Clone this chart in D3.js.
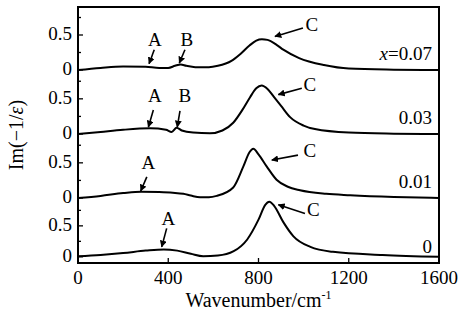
<!DOCTYPE html>
<html>
<head>
<meta charset="utf-8">
<script src="https://cdn.jsdelivr.net/npm/d3@7"></script>
<style>
  body { margin: 0; background: #fff; }
</style>
</head>
<body>
<svg id="chart" width="461" height="322" font-family="'Liberation Serif', 'DejaVu Serif', 'Times New Roman', serif"></svg>
<script>
// wavenumber (cm-1) and Im(-1/eps)
var wn007 = [0, 100, 200, 300, 360, 400, 430, 455, 480, 520, 580, 620, 680, 720, 760, 790, 815, 840, 880, 910, 980, 1090, 1200, 1400, 1600];
var im007 = [0, 0.03, 0.05, 0.045, 0.03, 0.03, 0.06, 0.08, 0.06, 0.04, 0.04, 0.06, 0.13, 0.23, 0.35, 0.42, 0.44, 0.43, 0.36, 0.29, 0.17, 0.07, 0.02, 0.005, 0];

var wn003 = [0, 100, 200, 320, 390, 415, 437, 460, 510, 585, 640, 688, 730, 762, 790, 814, 840, 870, 900, 940, 1000, 1050, 1200, 1400, 1600];
var im003 = [0, 0.03, 0.06, 0.08, 0.06, 0.03, 0.09, 0.05, 0.02, 0.01, 0.05, 0.16, 0.35, 0.52, 0.65, 0.69, 0.64, 0.52, 0.40, 0.24, 0.12, 0.07, 0.02, 0.005, 0];

var wn001 = [0, 100, 200, 280, 360, 420, 467, 500, 541, 580, 615, 688, 733, 760, 777, 800, 836, 880, 930, 984, 1100, 1206, 1400, 1600];
var im001 = [0, 0.03, 0.07, 0.09, 0.085, 0.075, 0.06, 0.035, 0.01, 0.01, 0.03, 0.15, 0.45, 0.65, 0.70, 0.62, 0.45, 0.26, 0.16, 0.11, 0.06, 0.04, 0.015, 0];

var wn000 = [0, 100, 200, 300, 380, 440, 500, 555, 620, 690, 750, 800, 830, 848, 870, 910, 955, 1030, 1130, 1350, 1600];
var im000 = [0.01, 0.03, 0.06, 0.10, 0.12, 0.10, 0.05, 0.01, 0.02, 0.09, 0.28, 0.60, 0.84, 0.89, 0.82, 0.56, 0.33, 0.16, 0.08, 0.03, 0];

var xTicks = [0, 400, 800, 1200, 1600];
var yTicks = [0, 0.5];
var yMinor = [0.25, 0.75];

// annotations: label at (x, y), arrow from (x1, y1) to (x2, y2), in data units of the panel
var panels = [
  { name: "0.07", wn: wn007, im: im007, domain: [0, 0.9],
    notes: [
      { t: "A", x: 341, y: 0.40, x1: 338, y1: 0.29, x2: 315, y2: 0.09 },
      { t: "B", x: 482, y: 0.40, x1: 474, y1: 0.29, x2: 449, y2: 0.10 },
      { t: "C", x: 1036, y: 0.62, x1: 997, y1: 0.60, x2: 873, y2: 0.48 }
    ] },
  { name: "0.03", wn: wn003, im: im003, domain: [0, 0.91],
    notes: [
      { t: "A", x: 341, y: 0.51, x1: 334, y1: 0.34, x2: 312, y2: 0.10 },
      { t: "B", x: 474, y: 0.51, x1: 452, y1: 0.33, x2: 440, y2: 0.10 },
      { t: "C", x: 1028, y: 0.68, x1: 992, y1: 0.65, x2: 888, y2: 0.56 }
    ] },
  { name: "0.01", wn: wn001, im: im001, domain: [0, 0.91],
    notes: [
      { t: "A", x: 312, y: 0.47, x1: 305, y1: 0.30, x2: 278, y2: 0.10 },
      { t: "C", x: 1028, y: 0.64, x1: 975, y1: 0.61, x2: 859, y2: 0.54 }
    ] },
  { name: "0", wn: wn000, im: im000, domain: [-0.1, 0.95],
    notes: [
      { t: "A", x: 400, y: 0.59, x1: 393, y1: 0.46, x2: 371, y2: 0.16 },
      { t: "C", x: 1043, y: 0.73, x1: 1006, y1: 0.70, x2: 888, y2: 0.84 }
    ] }
];

var svg = d3.select("#chart");
var left = 78, right = 439, plotTop = 7, plotBottom = 263;
var bounds = [7, 70, 134, 198, 263];

var x = d3.scaleLinear().domain([0, 1600]).range([left, right]);

svg.append("defs").append("marker")
  .attr("id", "head")
  .attr("viewBox", "0 0 10 10")
  .attr("refX", 9).attr("refY", 5)
  .attr("markerWidth", 7).attr("markerHeight", 7)
  .attr("markerUnits", "userSpaceOnUse")
  .attr("orient", "auto")
  .append("path").attr("d", "M0,0 L10,5 L0,10 z").attr("fill", "#000");

var line = d3.line().curve(d3.curveMonotoneX);

panels.forEach(function(p, i) {
  var y = d3.scaleLinear().domain(p.domain).range([bounds[i + 1], bounds[i]]);
  var g = svg.append("g");

  // y ticks point inward
  g.selectAll(".maj").data(yTicks).enter().append("line")
    .attr("x1", left).attr("x2", left + 5)
    .attr("y1", function(d) { return y(d); }).attr("y2", function(d) { return y(d); })
    .attr("stroke", "#000").attr("stroke-width", 1.3);
  g.selectAll(".min").data(yMinor).enter().append("line")
    .attr("x1", left).attr("x2", left + 3)
    .attr("y1", function(d) { return y(d); }).attr("y2", function(d) { return y(d); })
    .attr("stroke", "#000").attr("stroke-width", 1.3);
  g.selectAll(".lab").data(yTicks).enter().append("text")
    .attr("x", left - 6).attr("y", function(d) { return y(d) + 1; })
    .attr("text-anchor", "end").attr("dominant-baseline", "middle")
    .attr("font-size", 19)
    .text(function(d) { return d === 0 ? "0" : "0.5"; });

  g.append("path")
    .attr("d", line(p.wn.map(function(w, k) { return [x(w), y(p.im[k])]; })))
    .attr("fill", "none").attr("stroke", "#000").attr("stroke-width", 2);

  p.notes.forEach(function(n) {
    g.append("text").attr("x", x(n.x)).attr("y", y(n.y))
      .attr("text-anchor", "middle").attr("dominant-baseline", "middle")
      .attr("font-size", 19).text(n.t);
    g.append("line")
      .attr("x1", x(n.x1)).attr("y1", y(n.y1))
      .attr("x2", x(n.x2)).attr("y2", y(n.y2))
      .attr("stroke", "#000").attr("stroke-width", 1.6)
      .attr("marker-end", "url(#head)");
  });

  var lab = g.append("text").attr("x", 432).attr("y", bounds[i + 1] - 10)
    .attr("text-anchor", "end").attr("font-size", 19);
  if (i === 0) {
    lab.append("tspan").attr("font-style", "italic").text("x");
    lab.append("tspan").text("=0.07");
  } else {
    lab.text(p.name);
  }
});

// x axis ticks point inward
svg.append("g").selectAll("line").data(xTicks).enter().append("line")
  .attr("x1", function(d) { return x(d); }).attr("x2", function(d) { return x(d); })
  .attr("y1", plotBottom).attr("y2", plotBottom - 5)
  .attr("stroke", "#000").attr("stroke-width", 1.3);
svg.append("g").selectAll("text").data(xTicks).enter().append("text")
  .attr("x", function(d) { return x(d); }).attr("y", plotBottom + 21)
  .attr("text-anchor", "middle")
  .attr("font-size", 19)
  .text(function(d) { return d; });

// frame
svg.append("rect").attr("x", left).attr("y", plotTop)
  .attr("width", right - left).attr("height", plotBottom - plotTop)
  .attr("fill", "none").attr("stroke", "#000").attr("stroke-width", 2);

// axis titles
var xt = svg.append("text").attr("x", (left + right) / 2).attr("y", 307)
  .attr("text-anchor", "middle").attr("font-size", 20);
xt.append("tspan").text("Wavenumber/cm");
xt.append("tspan").attr("font-size", 12).attr("dy", -8).text("-1");

var yt = svg.append("text")
  .attr("transform", "translate(23," + ((plotTop + plotBottom) / 2) + ") rotate(-90)")
  .attr("text-anchor", "middle").attr("font-size", 20);
yt.append("tspan").text("Im(−1/");
yt.append("tspan").attr("font-style", "italic").text("ε");
yt.append("tspan").text(")");
</script>
</body>
</html>
